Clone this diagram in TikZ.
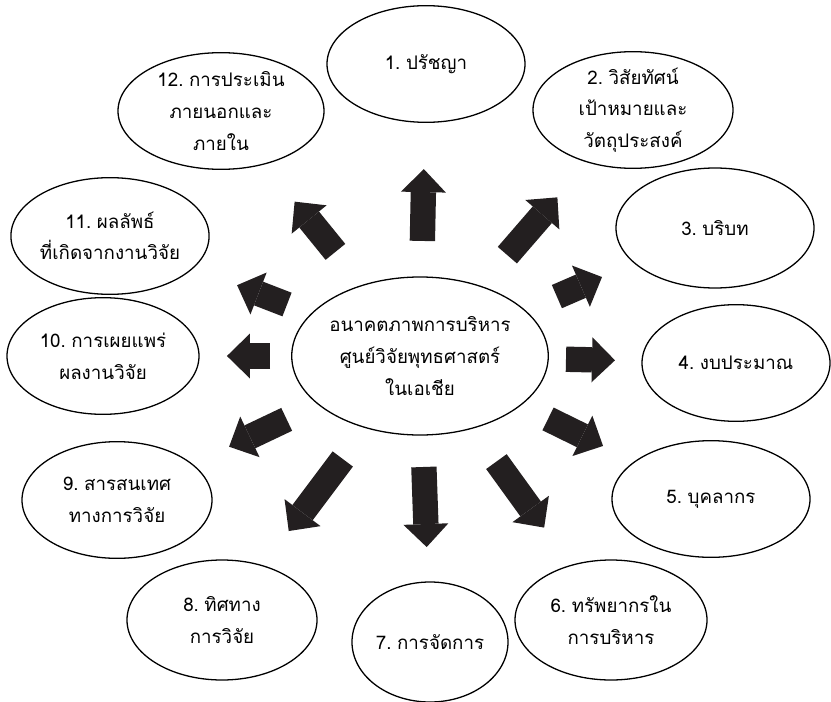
\documentclass[tikz,border=0pt]{standalone}
\usepackage{fontspec}
\setmainfont[Script=Thai, WordSpace=0.55]{Loma}
\usetikzlibrary{arrows.meta, shapes.geometric, calc}
\definecolor{arrowfill}{HTML}{231F20}

\begin{document}
\begin{tikzpicture}[x=0.3mm, y=-0.3mm,
	goal/.style={ellipse, draw, line width=1.1pt, inner xsep=0pt, inner ysep=-3mm, align=center,
		minimum width=58mm, minimum height=35mm, font=\fontsize{16}{27}\selectfont},
	fatarrow/.style={line width=7.6mm, color=arrowfill,
		-{Triangle[width=13.5mm, length=6.9mm, line width=0pt]}}]
	\useasboundingbox (0,0) rectangle (831,701);

	\node [goal, minimum width=74.4mm, minimum height=47.4mm] (hub) at (420,356)
		{อนาคตภาพการบริหาร\\ศูนย์วิจัยพุทธศาสตร์\\ในเอเชีย};

	\node [goal, minimum width=59.4mm] (philosophy) at (426,64) {1. ปรัชญา};
	\node [goal, minimum width=60mm] (vision) at (633,110) {2. วิสัยทัศน์\\เป้าหมายและ\\วัตถุประสงค์};
	\node [goal, minimum width=59.4mm, minimum height=36mm] (context) at (715,228) {3. บริบท};
	\node [goal, minimum width=56.4mm] (budget) at (736,363) {4. งบประมาณ};
	\node [goal, minimum width=59.4mm] (staff) at (711,499) {5. บุคลากร};
	\node [goal, minimum width=57.6mm, minimum height=36mm] (resources) at (611,620) {6. ทรัพยากรใน\\การบริหาร};
	\node [goal, minimum width=46.8mm, minimum height=36mm] (management) at (430,642) {7. การจัดการ};
	\node [goal, minimum width=57mm, minimum height=36mm] (direction) at (222,620) {8. ทิศทาง\\การวิจัย};
	\node [goal, minimum width=57mm] (information) at (117,500) {9. สารสนเทศ\\ทางการวิจัย};
	\node [goal, minimum width=57.6mm] (publication) at (103,356) {10. การเผยแพร่\\ผลงานวิจัย};
	\node [goal, minimum width=58.2mm] (outcome) at (110,236) {11. ผลลัพธ์\\ที่เกิดจากงานวิจัย};
	\node [goal, minimum width=61.8mm] (assessment) at (221,111) {12. การประเมิน\\ภายนอกและ\\ภายใน};

	\foreach \target/\from/\to in {philosophy/0.394/0.640, vision/0.41/0.645, context/0.464/0.617,
		budget/0.462/0.617, staff/0.44/0.629, resources/0.40/0.65, management/0.388/0.668,
		direction/0.39/0.663, information/0.44/0.63, publication/0.473/0.609,
		outcome/0.429/0.59, assessment/0.425/0.63}
		\draw[fatarrow] ($(hub.center)!\from!(\target.center)$) -- ($(hub.center)!\to!(\target.center)$);
\end{tikzpicture}
\end{document}
